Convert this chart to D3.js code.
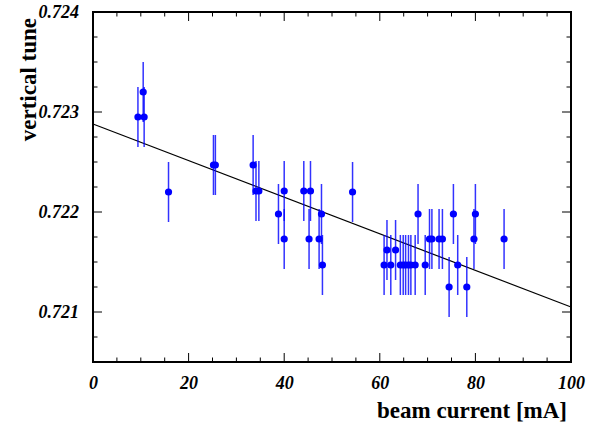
<!DOCTYPE html>
<html>
<head>
<meta charset="utf-8">
<style>
body { margin: 0; background: #fff; }
svg { display: block; }
</style>
</head>
<body>
<svg width="593" height="426"></svg>
<script src="https://cdn.jsdelivr.net/npm/d3@7"></script>
<script>
// beam current [mA]
var current = [9.4, 10.5, 10.7, 15.8, 25.2, 25.6, 33.5, 34.1, 34.7, 38.8, 40.0, 40.0,
  44.1, 45.2, 45.5, 47.3, 47.8, 48.0, 54.3, 60.9, 61.5, 62.3, 63.3, 64.3, 64.9, 65.4,
  66.0, 66.5, 67.4, 68.0, 69.5, 70.4, 70.9, 72.4, 73.1, 74.5, 75.4, 76.3, 78.2, 79.7,
  80.0, 86.0];
// vertical tune
var tune = [0.72295, 0.72320, 0.72295, 0.72220, 0.72247, 0.72247, 0.72247, 0.72221, 0.72221,
  0.72198, 0.72221, 0.72173, 0.72221, 0.72173, 0.72221, 0.72173, 0.72198, 0.72147,
  0.72220, 0.72147, 0.72162, 0.72147, 0.72162, 0.72147, 0.72147, 0.72147, 0.72147,
  0.72147, 0.72147, 0.72198, 0.72147, 0.72173, 0.72173, 0.72173, 0.72173, 0.72125,
  0.72198, 0.72147, 0.72125, 0.72173, 0.72198, 0.72173];
var tuneErr = 0.0003;
// linear fit: tune = a + b * current
var fitA = 0.72288, fitB = -0.0000183;

var xTicks = [0, 20, 40, 60, 80, 100];
var yTicks = [0.721, 0.722, 0.723, 0.724];

var serif = "'Liberation Serif', 'DejaVu Serif', 'Times New Roman', Times, serif";

var svg = d3.select("svg"),
    margin = {top: 12, right: 22, bottom: 64, left: 93},
    width = 593 - margin.left - margin.right,
    height = 426 - margin.top - margin.bottom,
    g = svg.append("g").attr("transform", "translate(" + margin.left + "," + margin.top + ")");

var x = d3.scaleLinear().domain([0, 100]).range([0, width]);
var y = d3.scaleLinear().domain([0.7205, 0.724]).range([height, 0]);

var xMinor = d3.range(0, 101, 5).filter(function(d) { return d % 20 !== 0; });
var yMinor = d3.range(0, 15).map(function(i) { return 0.7205 + i * 0.00025; })
  .filter(function(d) { return Math.abs(d * 1000 - Math.round(d * 1000)) > 1e-6; });

function tickLines(sel, vals, len, horiz, at, dir) {
  sel.selectAll(null).data(vals).enter().append("line")
    .attr("stroke", "#000").attr("stroke-width", 1)
    .attr("x1", function(d) { return horiz ? x(d) : at; })
    .attr("x2", function(d) { return horiz ? x(d) : at + dir * len; })
    .attr("y1", function(d) { return horiz ? at : y(d); })
    .attr("y2", function(d) { return horiz ? at + dir * len : y(d); });
}

var ticks = g.append("g");
tickLines(ticks, xTicks, 9, true, height, -1);
tickLines(ticks, xMinor, 4.5, true, height, -1);
tickLines(ticks, xTicks, 9, true, 0, 1);
tickLines(ticks, xMinor, 4.5, true, 0, 1);
tickLines(ticks, yTicks, 9, false, 0, 1);
tickLines(ticks, yMinor, 4.5, false, 0, 1);
tickLines(ticks, yTicks, 9, false, width, -1);
tickLines(ticks, yMinor, 4.5, false, width, -1);

function styleLabels(a) {
  a.select(".domain").remove();
  a.attr("font-family", serif).attr("font-size", 18);
  a.selectAll(".tick text")
    .attr("font-weight", "bold")
    .attr("font-style", "italic")
    .attr("fill", "#000");
}

// tick labels via axes, with their own tick lines hidden
g.append("g")
    .attr("transform", "translate(0," + height + ")")
    .call(d3.axisBottom(x).tickValues(xTicks).tickSize(0).tickPadding(14).tickFormat(d3.format("d")))
    .call(styleLabels);

g.append("g")
    .call(d3.axisLeft(y).tickValues(yTicks).tickSize(0).tickPadding(14).tickFormat(d3.format(".3f")))
    .call(styleLabels);

// frame
g.append("rect")
    .attr("width", width).attr("height", height)
    .attr("fill", "none").attr("stroke", "#000").attr("stroke-width", 2);

// fit line
g.append("line")
    .attr("x1", x(0)).attr("y1", y(fitA))
    .attr("x2", x(100)).attr("y2", y(fitA + fitB * 100))
    .attr("stroke", "#000").attr("stroke-width", 1.2);

var data = current.map(function(c, i) { return {c: c, t: tune[i]}; });

g.append("g").selectAll("line").data(data).enter().append("line")
    .attr("x1", function(d) { return x(d.c); })
    .attr("x2", function(d) { return x(d.c); })
    .attr("y1", function(d) { return y(d.t - tuneErr); })
    .attr("y2", function(d) { return y(d.t + tuneErr); })
    .attr("stroke", "#0000ff").attr("stroke-width", 1.5).attr("opacity", 0.8);

g.append("g").selectAll("circle").data(data).enter().append("circle")
    .attr("cx", function(d) { return x(d.c); })
    .attr("cy", function(d) { return y(d.t); })
    .attr("r", 3.6)
    .attr("fill", "#0000ff");

// axis titles
svg.append("text")
    .attr("x", 567).attr("y", 418)
    .attr("text-anchor", "end")
    .attr("font-family", serif).attr("font-weight", "bold").attr("font-size", 23)
    .text("beam current [mA]");

svg.append("text")
    .attr("transform", "translate(36,18) rotate(-90)")
    .attr("text-anchor", "end")
    .attr("font-family", serif).attr("font-weight", "bold").attr("font-size", 23)
    .text("vertical tune");
</script>
</body>
</html>
